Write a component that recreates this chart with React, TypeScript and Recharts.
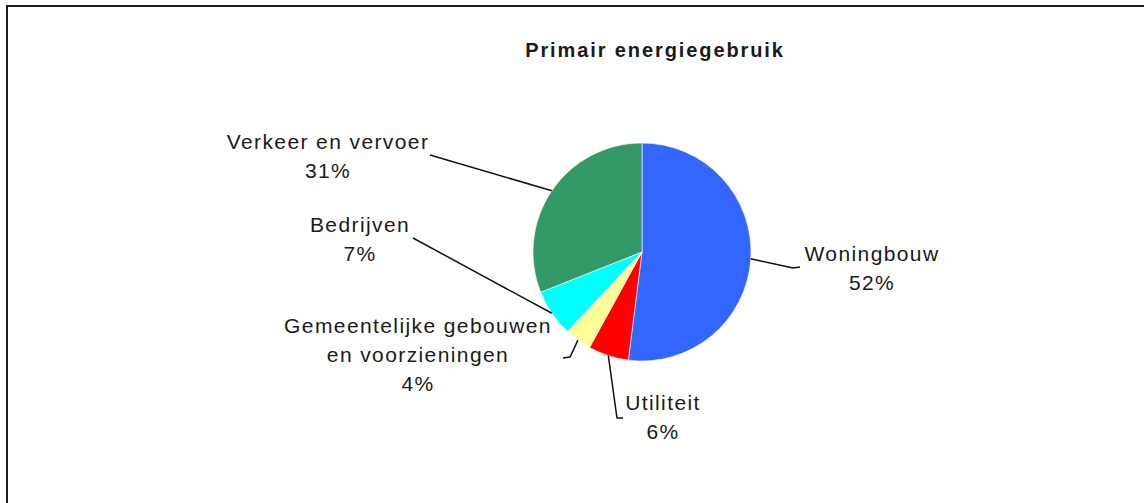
import { PieChart, Pie, Cell } from 'recharts';

// ─── Data ───────────────────────────────────────────────────────────────────

const categories = [
  'Woningbouw',
  'Utiliteit',
  'Gemeentelijke gebouwen\nen voorzieningen',
  'Bedrijven',
  'Verkeer en vervoer',
];
const shares = [52, 6, 4, 7, 31];
const sliceColors = ['#3366FF', '#FF0000', '#FFFF99', '#00FFFF', '#339966'];

const data = categories.map((name, i) => ({ name, value: shares[i] }));

// ─── Label layout (offsets from pie centre) ─────────────────────────────────

const labelLayout: { text: [number, number]; line: [number, number][] }[] = [
  { text: [230, 9], line: [[151, 16], [158, 15]] },
  { text: [21, 158], line: [[-25, 166], [-19, 166]] },
  { text: [-224, 81], line: [[-72, 105], [-79, 106]] },
  { text: [-282, -20], line: [[-229, -14]] },
  { text: [-314, -103], line: [[-212, -97]] },
];

const RADIAN = Math.PI / 180;
const FONT = '"Liberation Sans", Arial, sans-serif';

function SliceLabel(props: any) {
  const { cx, cy, midAngle, outerRadius, index, name, value } = props;
  const layout = labelLayout[index];
  if (!layout) return null;
  const sx = cx + outerRadius * Math.cos(-midAngle * RADIAN);
  const sy = cy + outerRadius * Math.sin(-midAngle * RADIAN);
  const pts = [[sx, sy], ...layout.line.map(([dx, dy]) => [cx + dx, cy + dy])];
  const lines = [...String(name).split('\n'), `${value}%`];
  const tx = cx + layout.text[0];
  const ty = cy + layout.text[1];
  return (
    <g>
      <polyline
        points={pts.map((p) => p.join(',')).join(' ')}
        fill="none"
        stroke="#111"
        strokeWidth={1.5}
      />
      <text
        x={tx}
        y={ty}
        textAnchor="middle"
        fontFamily={FONT}
        fontSize={21}
        letterSpacing={1.4}
        fill="#1a1a1a"
      >
        {lines.map((l, i) => (
          <tspan key={i} x={tx} dy={i === 0 ? 0 : 29}>
            {l}
          </tspan>
        ))}
      </text>
    </g>
  );
}

export default function App() {
  return (
    <div
      style={{
        position: 'absolute',
        left: 0,
        top: 0,
        width: 1144,
        height: 503,
        overflow: 'hidden',
        background: '#fff',
      }}
    >
      {/* chart frame, runs off the right and bottom edges */}
      <div
        style={{
          position: 'absolute',
          left: 6,
          top: 5,
          width: 1200,
          height: 600,
          border: '2px solid #1c1c1c',
        }}
      />
      <div style={{ position: 'absolute', left: 0, top: 0 }}>
        <PieChart width={1144} height={503} margin={{ top: 0, right: 0, bottom: 0, left: 0 }}>
          <text
            x={655}
            y={57}
            textAnchor="middle"
            fontFamily={FONT}
            fontSize={20}
            fontWeight="bold"
            letterSpacing={1.9}
            fill="#1a1a1a"
          >
            Primair energiegebruik
          </text>
          <Pie
            data={data}
            dataKey="value"
            nameKey="name"
            cx={642}
            cy={252}
            outerRadius={109}
            startAngle={90}
            endAngle={-270}
            stroke="#ffffff"
            strokeWidth={0.6}
            label={SliceLabel}
            labelLine={false}
            isAnimationActive={false}
          >
            {data.map((d, i) => (
              <Cell key={d.name} fill={sliceColors[i]} />
            ))}
          </Pie>
        </PieChart>
      </div>
    </div>
  );
}
